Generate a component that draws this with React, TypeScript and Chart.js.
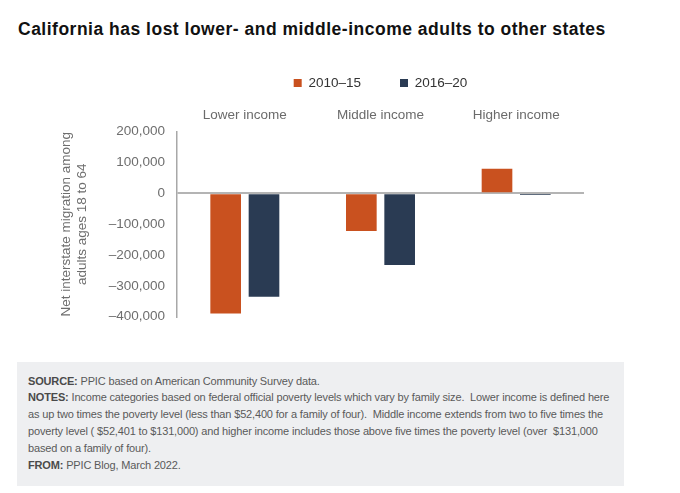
import React, { useEffect, useRef } from "react";
import { Chart, registerables } from "chart.js";

Chart.register(...registerables);

const chartTitle = "California has lost lower- and middle-income adults to other states";
const categories = ["Lower income", "Middle income", "Higher income"];
const seriesLabels = ["2010–15", "2016–20"];
const values2010to15 = [-390000, -122000, 80000];
const values2016to20 = [-335000, -232000, -5000];
const seriesColors = ["#C9511F", "#2A3B53"];
const yTickValues = [200000, 100000, 0, -100000, -200000, -300000, -400000];
const yTitleLines = ["Net interstate migration among", "adults ages 18 to 64"];
const noteLines: { label?: string; text: string }[] = [
  { label: "SOURCE:", text: " PPIC based on American Community Survey data." },
  { label: "NOTES:", text: " Income categories based on federal official poverty levels which vary by family size.  Lower income is defined here" },
  { text: "as up two times the poverty level (less than $52,400 for a family of four).  Middle income extends from two to five times the" },
  { text: "poverty level ( $52,401 to $131,000) and higher income includes those above five times the poverty level (over  $131,000" },
  { text: "based on a family of four)." },
  { label: "FROM:", text: " PPIC Blog, March 2022." },
];

const FONT = '"Liberation Sans", Arial, Helvetica, sans-serif';

const formatTick = (v: number) =>
  (v < 0 ? "\u2013" : "") + Math.abs(v).toLocaleString("en-US");

const centerLegendPlugin = {
  id: "centerLegend",
  afterLayout(chart: any) {
    const lg = chart.legend;
    if (!lg) return;
    lg.left = chart.chartArea.left;
    lg.right = chart.chartArea.right;
    lg.width = lg.right - lg.left;
  },
};

export default function App() {
  const canvasRef = useRef<HTMLCanvasElement | null>(null);

  useEffect(() => {
    if (!canvasRef.current) return;
    const chart = new Chart(canvasRef.current, {
      type: "bar",
      data: {
        labels: categories,
        datasets: [
          {
            label: seriesLabels[0],
            data: values2010to15,
            backgroundColor: seriesColors[0],
            borderWidth: 0,
          },
          {
            label: seriesLabels[1],
            data: values2016to20,
            backgroundColor: seriesColors[1],
            borderWidth: 0,
          },
        ],
      },
      options: {
        responsive: false,
        animation: false,
        devicePixelRatio: 1,
        layout: { padding: { top: 37.25, right: 96, bottom: 33.3, left: 0 } },
        datasets: {
          bar: { categoryPercentage: 0.565, barPercentage: 0.8 },
        } as any,
        plugins: {
          legend: {
            position: "top",
            labels: {
              boxWidth: 8,
              boxHeight: 8,
              padding: 39,
              color: "#333333",
              font: { family: FONT, size: 13.5 },
            },
          },
          tooltip: { enabled: false },
          title: { display: false },
        },
        scales: {
          x: {
            position: "top",
            grid: { display: false },
            border: { display: false },
            ticks: {
              color: "#6b6b6b",
              padding: 0.6,
              maxRotation: 0,
              font: { family: FONT, size: 13.5 },
            },
            afterFit(scale: any) {
              scale.height = 31.95;
            },
          },
          y: {
            min: -400000,
            max: 200000,
            afterBuildTicks(scale: any) {
              scale.ticks = yTickValues.map((v) => ({ value: v }));
            },
            grid: {
              drawTicks: false,
              lineWidth: 2,
              color: (ctx: any) =>
                ctx.tick && ctx.tick.value === 0 ? "#b4b4b4" : "rgba(0,0,0,0)",
            },
            border: { display: true, color: "#a8a8a8", width: 1.5 },
            ticks: {
              color: "#6e6e6e",
              padding: 12,
              font: { family: FONT, size: 13.5 },
              callback: (v: any) => formatTick(Number(v)),
            },
            title: {
              display: true,
              text: yTitleLines,
              color: "#6e6e6e",
              font: { family: FONT, size: 13.5, lineHeight: 1.22 },
              padding: { top: 57.75, bottom: 0 },
            },
            afterFit(scale: any) {
              scale.width = 177;
            },
          },
        },
      },
      plugins: [centerLegendPlugin],
    });
    return () => chart.destroy();
  }, []);

  return (
    <div
      style={{
        position: "absolute",
        left: 0,
        top: 0,
        width: 680,
        height: 493,
        background: "#ffffff",
        fontFamily: FONT,
        overflow: "hidden",
      }}
    >
      <div
        style={{
          position: "absolute",
          left: 18,
          top: 19,
          lineHeight: "20px",
          fontSize: 17.5,
          fontWeight: 700,
          letterSpacing: 0.5,
          color: "#111111",
          whiteSpace: "nowrap",
        }}
      >
        {chartTitle}
      </div>
      <canvas
        ref={canvasRef}
        width={680}
        height={350}
        style={{ position: "absolute", left: 0, top: 0, width: 680, height: 350 }}
      />
      <div
        style={{
          position: "absolute",
          left: 17,
          top: 362,
          width: 607,
          height: 124,
          background: "#eeeff1",
          boxSizing: "border-box",
          paddingTop: 10.6,
          paddingLeft: 11,
          fontSize: 11,
          letterSpacing: -0.16,
          lineHeight: "16.8px",
          color: "#5a5a5a",
          whiteSpace: "pre",
        }}
      >
        {noteLines.map((ln, i) => (
          <div key={i}>
            {ln.label ? <b style={{ color: "#4a4a4a" }}>{ln.label}</b> : null}
            {ln.text}
          </div>
        ))}
      </div>
    </div>
  );
}
